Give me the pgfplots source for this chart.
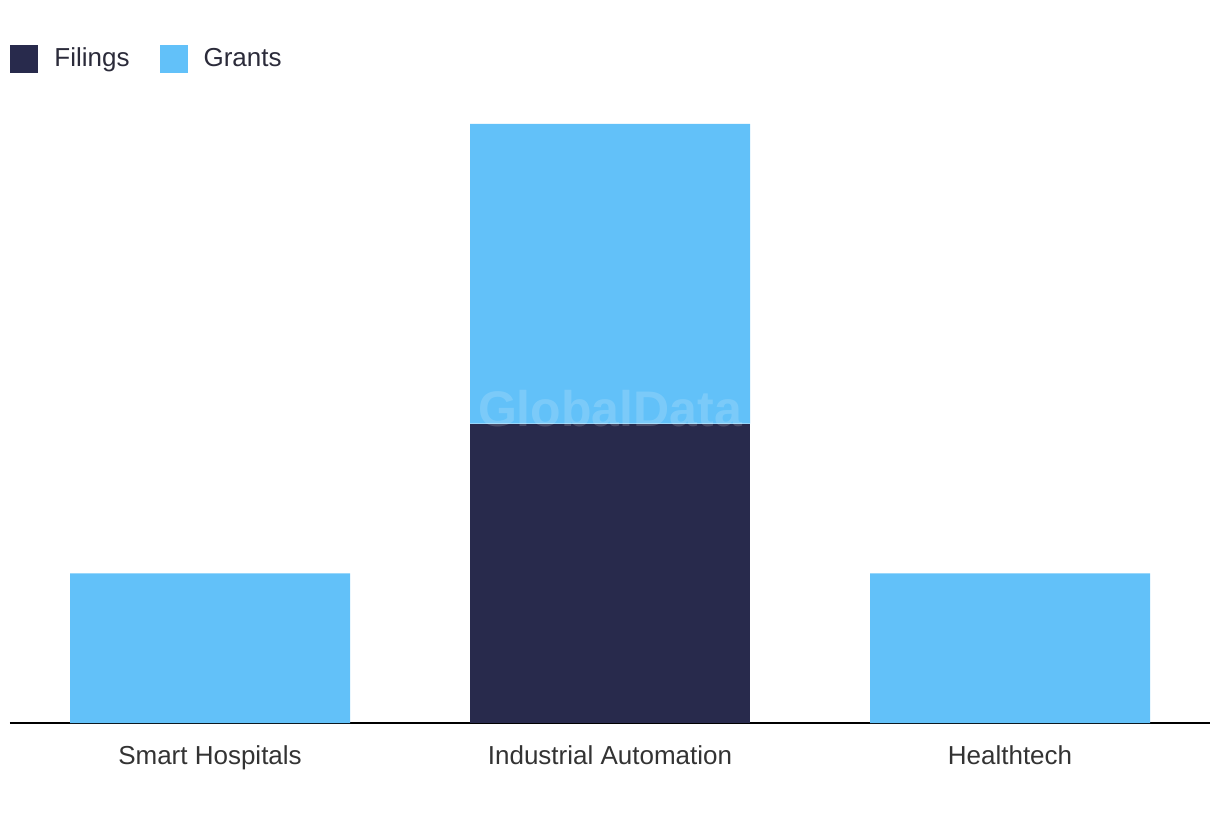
\documentclass[border=0pt]{standalone}
\usepackage{pgfplots}
\pgfplotsset{compat=1.18}
\usepackage{fontspec}
\setmainfont{Liberation Sans}
\definecolor{navy}{HTML}{282A4C}
\definecolor{sky}{HTML}{62C1F9}
\definecolor{txt}{HTML}{2B2B3A}
\definecolor{lbl}{HTML}{333333}
\begin{document}
\begin{tikzpicture}
\path[use as bounding box] (-5pt,-48.5pt) rectangle (605pt,361.5pt);
\begin{axis}[
  at={(0,0)}, anchor=south west,
  scale only axis, width=600pt, height=299.5pt,
  ymin=0, ymax=4, xmin=-0.5, xmax=2.5,
  ybar stacked, bar width=140pt,
  axis line style={draw=none},
  xtick={0,1,2},
  xticklabels={Smart Hospitals,Industrial Automation,Healthtech},
  xtick style={draw=none},
  ytick=\empty,
  xticklabel style={font=\fontsize{13}{15}\selectfont, text=lbl, anchor=north, inner sep=0pt, yshift=-11pt},
  clip=false,
  legend style={at={(0,1.1085)}, anchor=west, draw=none, fill=none,
    legend columns=-1, inner sep=0pt,
    font=\fontsize{13}{15}\selectfont, text=txt,
    /tikz/every odd column/.append style={column sep=8pt},
    /tikz/every even column/.append style={column sep=15pt},
    nodes={inner sep=0pt},
    cells={anchor=west}},
  legend image code/.code={\fill[#1] (0pt,-7pt) rectangle (14pt,7pt);},
]
\addplot[fill=navy, draw=none] coordinates {(0,0) (1,2) (2,0)};
\addplot[fill=sky, draw=none] coordinates {(0,1) (1,2) (2,1)};
\legend{Filings,Grants}
\draw[black, line width=0.8pt] (rel axis cs:0,0) -- (rel axis cs:1,0);
\coordinate (wm) at (axis cs:1,2.1);
\end{axis}
\node[text=white, text opacity=0.16, font=\fontsize{25}{30}\selectfont\bfseries] at (wm) {GlobalData};
\end{tikzpicture}
\end{document}
